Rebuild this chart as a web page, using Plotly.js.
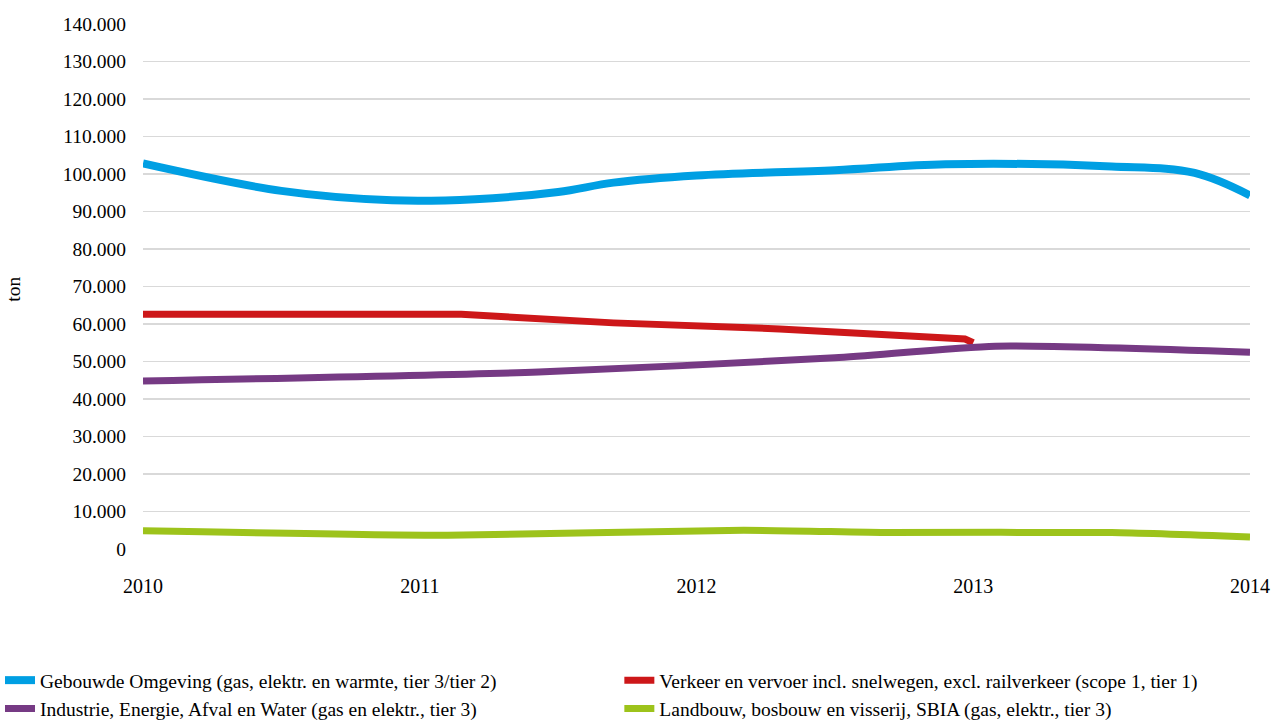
<!DOCTYPE html>
<html>
<head>
<meta charset="utf-8">
<script src="https://cdn.plot.ly/plotly-3.0.1.min.js"></script>
<style>html,body{margin:0;padding:0;background:#fff;}#chart{width:1277px;height:720px;}</style>
</head>
<body>
<div id="chart"></div>
<script>
const seriesNames = [
  "Gebouwde Omgeving (gas, elektr. en warmte, tier 3/tier 2)",
  "Verkeer en vervoer incl. snelwegen, excl. railverkeer (scope 1, tier 1)",
  "Industrie, Energie, Afval en Water (gas en elektr., tier 3)",
  "Landbouw, bosbouw en visserij, SBIA (gas, elektr., tier 3)"
];
const yAxisTitle = "ton";
const blueX = [2010, 2010.5, 2010.9, 2011.2, 2011.5, 2011.7, 2012.0, 2012.5, 2012.9, 2013.5, 2013.8, 2014];
const blueY = [102800, 95500, 93000, 93300, 95200, 97700, 99600, 101000, 102600, 102000, 100300, 94300];
const redX = [2010, 2011.15, 2011.7, 2012.3, 2012.97, 2013.0];
const redY = [62600, 62600, 60300, 58700, 56000, 55000];
const purpleX = [2010, 2011.43, 2012.5, 2013.08, 2014];
const purpleY = [44800, 47200, 51000, 54100, 52500];
const greenX = [2010, 2011.1, 2012.17, 2012.7, 2013.5, 2014];
const greenY = [4900, 3700, 5000, 4400, 4400, 3200];
const yTickVals = [0,10000,20000,30000,40000,50000,60000,70000,80000,90000,100000,110000,120000,130000,140000];
const yTickText = ["0","10.000","20.000","30.000","40.000","50.000","60.000","70.000","80.000","90.000","100.000","110.000","120.000","130.000","140.000"];
const xTickVals = [2010, 2011, 2012, 2013, 2014];
const colors = ["#009FE3", "#CD1719", "#763A84", "#9DC31B"];

const serif = "'Liberation Serif', serif";
const traces = [
  {x: blueX, y: blueY, name: seriesNames[0], legend: "legend", mode: "lines", line: {color: colors[0], width: 8, shape: "spline", smoothing: 1}},
  {x: redX, y: redY, name: seriesNames[1], legend: "legend2", mode: "lines", line: {color: colors[1], width: 7}},
  {x: purpleX, y: purpleY, name: seriesNames[2], legend: "legend", mode: "lines", line: {color: colors[2], width: 7, shape: "spline", smoothing: 0.6}},
  {x: greenX, y: greenY, name: seriesNames[3], legend: "legend2", mode: "lines", line: {color: colors[3], width: 7, shape: "spline", smoothing: 0.6}}
].map(t => Object.assign(t, {cliponaxis: false, hoverinfo: "skip"}));

const legendBase = {
  orientation: "v", xref: "container", yref: "container", yanchor: "top", y: 0.082,
  font: {family: serif, size: 19.5, color: "#000"},
  itemwidth: 30, tracegroupgap: 0, bgcolor: "rgba(0,0,0,0)", borderwidth: 0
};

const layout = {
  width: 1277, height: 720,
  margin: {l: 143, r: 27, t: 24, b: 171, autoexpand: false},
  paper_bgcolor: "#fff", plot_bgcolor: "#fff",
  font: {family: serif, size: 19.5, color: "#000"},
  showlegend: true,
  xaxis: {
    range: [2010, 2014], tickvals: xTickVals, ticktext: xTickVals.map(String),
    showgrid: false, zeroline: false, showline: false, ticks: "",
    ticklabelstandoff: 23, tickfont: {family: serif, size: 20, color: "#000"}
  },
  yaxis: {
    range: [0, 140000], tickvals: yTickVals, ticktext: yTickText,
    showgrid: true, gridcolor: "#D9D9D9", gridwidth: 1.5, zeroline: false, showline: false, ticks: "",
    ticklabelstandoff: 16, tickfont: {family: serif, size: 19.5, color: "#000"}
  },
  annotations: [{
    text: yAxisTitle, xref: "paper", yref: "paper", x: -0.1165, y: 0.494,
    xanchor: "center", yanchor: "middle", textangle: -90, showarrow: false,
    font: {family: serif, size: 19.5, color: "#000"}
  }],
  legend: Object.assign({}, legendBase, {x: 0, xanchor: "left"}),
  legend2: Object.assign({}, legendBase, {x: 0.485, xanchor: "left"})
};
Plotly.newPlot("chart", traces, layout, {staticPlot: true, displayModeBar: false});
</script>
</body>
</html>
